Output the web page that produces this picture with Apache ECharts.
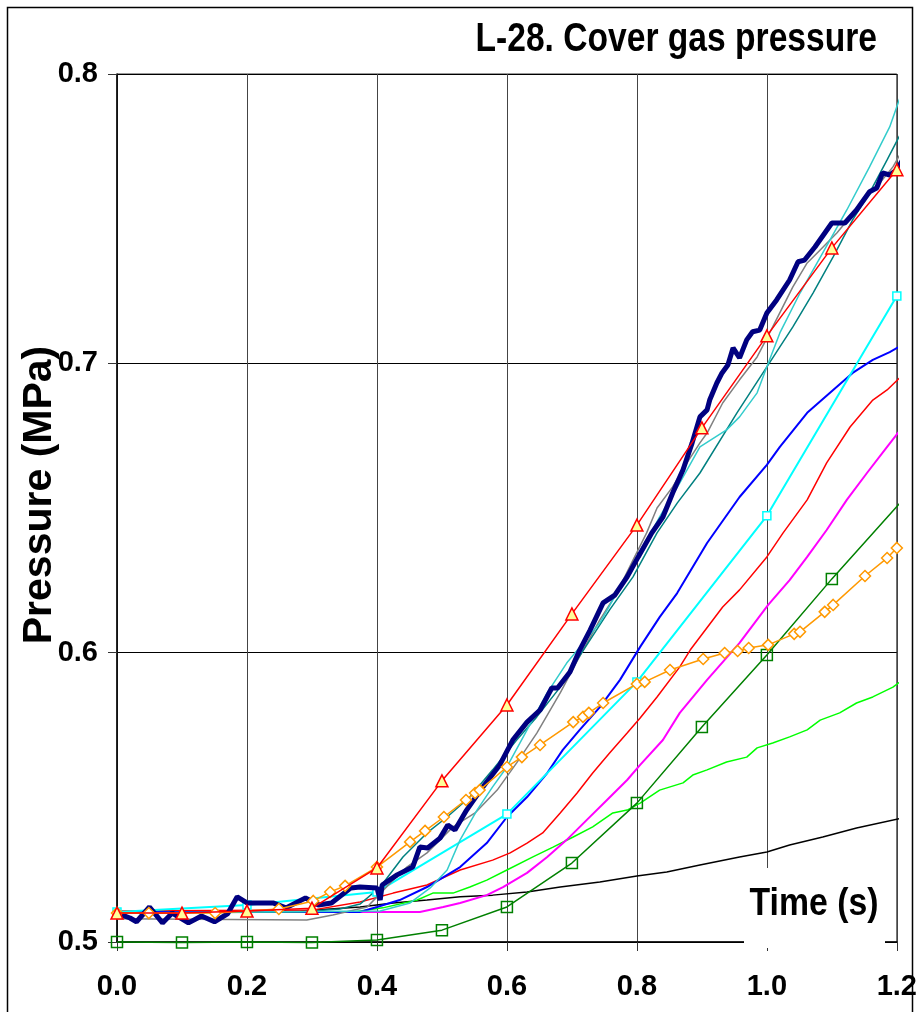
<!DOCTYPE html>
<html>
<head>
<meta charset="utf-8">
<script src="https://cdn.jsdelivr.net/npm/echarts@6/dist/echarts.min.js"></script>
<style>html,body{margin:0;padding:0;background:#fff;}#c{width:920px;height:1012px;}</style>
</head>
<body>
<div id="c"></div>
<script>
// ---- data: [time (s), pressure (MPa)] ----
var xTicks = ['0.0','0.2','0.4','0.6','0.8','1.0','1.2'];
var yTicks = ['0.5','0.6','0.7','0.8'];

var navyThick = [[0,0.510],[0.02,0.5083],[0.03,0.507],[0.05,0.5121],[0.07,0.5066],[0.085,0.510],[0.11,0.5066],[0.13,0.509],[0.15,0.507],[0.17,0.5097],[0.185,0.5156],[0.20,0.5135],[0.24,0.5135],[0.26,0.5118],[0.29,0.5152],[0.31,0.5128],[0.33,0.5135],[0.36,0.5187],[0.374,0.519],[0.400,0.5187],[0.405,0.5145],[0.408,0.5197],[0.431,0.5232],[0.455,0.5259],[0.466,0.5328],[0.478,0.5325],[0.497,0.5359],[0.509,0.5404],[0.520,0.5387],[0.538,0.5456],[0.563,0.5536],[0.589,0.5612],[0.609,0.5698],[0.631,0.5760],[0.651,0.5802],[0.669,0.5878],[0.678,0.5878],[0.697,0.5933],[0.712,0.6009],[0.728,0.6078],[0.748,0.6172],[0.766,0.6199],[0.785,0.6262],[0.802,0.6331],[0.823,0.6414],[0.840,0.6469],[0.855,0.6552],[0.871,0.6632],[0.885,0.6725],[0.897,0.6815],[0.908,0.6839],[0.912,0.6873],[0.923,0.6932],[0.931,0.6967],[0.940,0.6994],[0.948,0.7053],[0.958,0.7019],[0.969,0.7081],[0.978,0.7109],[0.989,0.7115],[1.000,0.7174],[1.015,0.7219],[1.035,0.7288],[1.048,0.7351],[1.058,0.7357],[1.074,0.7402],[1.100,0.7485],[1.120,0.7485],[1.138,0.7530],[1.158,0.7593],[1.169,0.7606],[1.178,0.7658],[1.189,0.7651],[1.200,0.7669],[1.209,0.7703]];

var grayLine = [[0,0.5080],[0.292,0.5076],[0.332,0.5093],[0.385,0.5121],[0.400,0.5156],[0.425,0.5214],[0.446,0.5259],[0.477,0.5308],[0.517,0.5398],[0.551,0.5446],[0.585,0.5525],[0.615,0.5619],[0.646,0.5722],[0.682,0.5861],[0.709,0.5975],[0.743,0.6113],[0.769,0.6206],[0.794,0.6320],[0.815,0.6414],[0.831,0.6500],[0.855,0.6573],[0.877,0.6656],[0.897,0.6725],[0.908,0.6759],[0.932,0.6863],[0.958,0.6943],[0.985,0.7022],[1.009,0.7126],[1.040,0.7264],[1.062,0.7347],[1.082,0.7392],[1.108,0.7451],[1.128,0.7506],[1.154,0.7575],[1.174,0.7624],[1.194,0.7679],[1.209,0.7738]];

var tealDark = [[0,0.510],[0.28,0.5104],[0.343,0.5114],[0.374,0.5131],[0.405,0.5190],[0.440,0.5294],[0.477,0.5377],[0.508,0.5432],[0.543,0.5501],[0.578,0.5595],[0.615,0.5698],[0.646,0.5778],[0.682,0.5881],[0.708,0.5975],[0.758,0.6148],[0.794,0.6262],[0.831,0.6414],[0.862,0.6517],[0.897,0.6621],[0.954,0.6829],[1.000,0.6988],[1.040,0.7126],[1.071,0.7243],[1.102,0.7368],[1.132,0.7496],[1.158,0.7589],[1.185,0.7703],[1.209,0.7807]];

var tealLight = [[0,0.510],[0.405,0.5107],[0.451,0.5135],[0.482,0.5187],[0.508,0.5249],[0.528,0.5353],[0.554,0.5456],[0.578,0.5536],[0.600,0.5605],[0.631,0.5733],[0.662,0.5861],[0.692,0.5964],[0.743,0.6103],[0.769,0.6206],[0.805,0.6345],[0.835,0.6469],[0.866,0.6587],[0.897,0.6711],[0.938,0.6770],[0.958,0.6815],[0.985,0.6898],[1.000,0.6988],[1.020,0.7105],[1.051,0.7243],[1.086,0.7382],[1.123,0.7530],[1.158,0.7679],[1.189,0.7817],[1.209,0.7945]];

var blueLine = [[0,0.5104],[0.374,0.5104],[0.400,0.5121],[0.435,0.5145],[0.477,0.5190],[0.528,0.5259],[0.569,0.5342],[0.600,0.5432],[0.631,0.5501],[0.662,0.5584],[0.686,0.5664],[0.712,0.5733],[0.743,0.5812],[0.774,0.5906],[0.805,0.6020],[0.835,0.6123],[0.862,0.6206],[0.908,0.6379],[0.958,0.6538],[1.000,0.6649],[1.020,0.6711],[1.062,0.6829],[1.102,0.6908],[1.132,0.6967],[1.163,0.7012],[1.189,0.7039],[1.209,0.7064]];

var redThin = [[0,0.5107],[0.302,0.5111],[0.374,0.5138],[0.425,0.5169],[0.477,0.5197],[0.528,0.5249],[0.578,0.5283],[0.605,0.5308],[0.631,0.5342],[0.655,0.5377],[0.682,0.5446],[0.708,0.5515],[0.732,0.5584],[0.758,0.5653],[0.785,0.5722],[0.805,0.5774],[0.831,0.5847],[0.866,0.5951],[0.882,0.6009],[0.932,0.6158],[0.958,0.6217],[1.000,0.6331],[1.025,0.6414],[1.062,0.6528],[1.092,0.6656],[1.128,0.6780],[1.163,0.6873],[1.185,0.6908],[1.209,0.6960]];

var magentaLine = [[0,0.5104],[0.466,0.5104],[0.502,0.5121],[0.528,0.5135],[0.569,0.5162],[0.594,0.5190],[0.631,0.5239],[0.662,0.5294],[0.692,0.5353],[0.723,0.5422],[0.754,0.5491],[0.785,0.5560],[0.805,0.5612],[0.840,0.5698],[0.866,0.5792],[0.908,0.5906],[0.958,0.6034],[1.002,0.6165],[1.035,0.6251],[1.062,0.6331],[1.092,0.6424],[1.123,0.6528],[1.154,0.6621],[1.185,0.6711],[1.209,0.6780]];

var limeLine = [[0,0.5104],[0.363,0.5104],[0.409,0.5118],[0.462,0.5145],[0.486,0.5169],[0.517,0.5169],[0.543,0.5190],[0.569,0.5214],[0.600,0.5249],[0.640,0.5294],[0.671,0.5328],[0.702,0.5363],[0.732,0.5398],[0.763,0.5446],[0.785,0.5456],[0.805,0.5480],[0.835,0.5525],[0.871,0.5550],[0.886,0.5577],[0.908,0.5595],[0.938,0.5622],[0.969,0.5639],[0.985,0.5671],[1.009,0.5688],[1.035,0.5709],[1.062,0.5733],[1.082,0.5767],[1.112,0.5792],[1.138,0.5826],[1.163,0.5847],[1.194,0.5881],[1.209,0.5906]];

var blackLine = [[0,0.5104],[0.282,0.5107],[0.374,0.5121],[0.425,0.5135],[0.477,0.5145],[0.528,0.5156],[0.578,0.5162],[0.631,0.5173],[0.682,0.5190],[0.743,0.5207],[0.800,0.5228],[0.846,0.5242],[0.897,0.5266],[0.958,0.5294],[1.000,0.5311],[1.035,0.5335],[1.086,0.5363],[1.138,0.5394],[1.209,0.5429]];

var redTriangles = [[0,0.5100],[0.1,0.5100],[0.2,0.5107],[0.3,0.5117],[0.4,0.5256],[0.5,0.5557],[0.6,0.5819],[0.7,0.6134],[0.8,0.6441],[0.9,0.6777],[1.0,0.7095],[1.1,0.7399],[1.2,0.7669]];
var redTrianglesTail = [1.209, 0.7696];

var orangeDiamonds = [[0.000,0.5100],[0.049,0.5100],[0.151,0.5100],[0.249,0.5114],[0.302,0.5142],[0.328,0.5173],[0.351,0.5194],[0.400,0.5259],[0.451,0.5346],[0.474,0.5384],[0.503,0.5432],[0.537,0.5491],[0.551,0.5515],[0.558,0.5525],[0.600,0.5605],[0.623,0.5639],[0.651,0.5681],[0.702,0.5760],[0.717,0.5778],[0.726,0.5792],[0.748,0.5826],[0.800,0.5892],[0.812,0.5899],[0.851,0.5940],[0.902,0.5978],[0.935,0.5999],[0.955,0.6006],[0.972,0.6016],[1.002,0.6027],[1.042,0.6065],[1.051,0.6072],[1.089,0.6141],[1.102,0.6165],[1.151,0.6265],[1.185,0.6327],[1.200,0.6362]];

var cyanSquares = [[0,0.5104],[0.2,0.5128],[0.4,0.5173],[0.6,0.5442],[0.8,0.5899],[1.0,0.6473],[1.2,0.7233]];
var cyanTail = [1.209, 0.7264];

var greenSquares = [[0,0.5],[0.1,0.4998],[0.2,0.5],[0.3,0.4998],[0.4,0.5007],[0.5,0.5041],[0.6,0.5121],[0.7,0.5273],[0.8,0.5480],[0.9,0.5743],[1.0,0.5992],[1.1,0.6255]];
var greenTail = [1.209, 0.6528];

// ---- chart ----
var FONT = "'Liberation Sans', Arial, sans-serif";
function withTail(arr, tail) {
  return arr.map(function (d) { return d; }).concat([{ value: tail, symbol: 'none' }]);
}
function plain(name, data, color, width, z) {
  return { name: name, type: 'line', data: data, showSymbol: false, symbol: 'none', clip: false,
    lineStyle: { color: color, width: width }, itemStyle: { color: color }, z: z, silent: true, animation: false };
}
var chart = echarts.init(document.getElementById('c'), null, { renderer: 'canvas' });
chart.setOption({
  backgroundColor: '#fff',
  animation: false,
  grid: { left: 117, top: 74, width: 780, height: 868, show: true, borderColor: '#333', borderWidth: 1, backgroundColor: 'transparent' },
  xAxis: {
    type: 'value', min: 0, max: 1.2, interval: 0.2,
    axisLine: { show: true, onZero: false, lineStyle: { color: '#000', width: 1.5 } },
    axisTick: { show: true, length: 9, lineStyle: { color: '#333' } },
    splitLine: { show: true, lineStyle: { color: '#444', width: 1 } },
    axisLabel: { margin: 30, color: '#000', fontSize: 29, fontWeight: 'bold', fontFamily: FONT,
      formatter: function (v) { return xTicks[Math.round(v / 0.2)]; } }
  },
  yAxis: {
    type: 'value', min: 0.5, max: 0.8, interval: 0.1,
    axisLine: { show: true, lineStyle: { color: '#000', width: 1.5 } },
    axisTick: { show: true, length: 9, lineStyle: { color: '#333' } },
    splitLine: { show: true, lineStyle: { color: '#000', width: 1 } },
    axisLabel: { margin: 19, color: '#000', fontSize: 29, fontWeight: 'bold', fontFamily: FONT,
      formatter: function (v) { return yTicks[Math.round((v - 0.5) / 0.1)]; } }
  },
  series: [
    plain('black', blackLine, '#000000', 1.5, 2),
    plain('lime', limeLine, '#00FF00', 1.5, 2),
    plain('magenta', magentaLine, '#FF00FF', 2, 2),
    plain('red', redThin, '#FF0000', 1.5, 2),
    plain('blue', blueLine, '#0000FF', 2, 2),
    { name: 'cyan', type: 'line', data: withTail(cyanSquares, cyanTail), clip: false, symbol: 'rect', symbolSize: 8, showAllSymbol: true,
      lineStyle: { color: '#00FFFF', width: 2 }, itemStyle: { color: '#fff', borderColor: '#00FFFF', borderWidth: 1.5 }, z: 3 },
    plain('gray', grayLine, '#808080', 1.5, 3),
    plain('tealDark', tealDark, '#008080', 1.5, 3),
    plain('tealLight', tealLight, '#33CCCC', 1.5, 3),
    plain('navy', navyThick, '#000080', 5, 4),
    { name: 'green', type: 'line', data: withTail(greenSquares, greenTail), clip: false, symbol: 'rect', symbolSize: 11, showAllSymbol: true,
      lineStyle: { color: '#008000', width: 1.5 }, itemStyle: { color: 'rgba(255,255,255,0)', borderColor: '#008000', borderWidth: 1.5 }, z: 5 },
    { name: 'orange', type: 'line', data: orangeDiamonds, clip: false, symbol: 'diamond', symbolSize: 11, showAllSymbol: true,
      lineStyle: { color: '#FF9900', width: 1.5 }, itemStyle: { color: '#fff', borderColor: '#FF9900', borderWidth: 1.5 }, z: 6 },
    { name: 'redTri', type: 'line', data: withTail(redTriangles, redTrianglesTail), clip: false, symbol: 'triangle', symbolSize: 12, showAllSymbol: true,
      lineStyle: { color: '#FF0000', width: 1.5 }, itemStyle: { color: '#FFFF99', borderColor: '#FF0000', borderWidth: 1.5 }, z: 7 }
  ],
  graphic: [
    { type: 'rect', z: 100, silent: true, shape: { x: 7.5, y: 7.5, width: 905, height: 1030 }, style: { fill: 'none', stroke: '#000', lineWidth: 1.5 } },
    { type: 'rect', z: 100, silent: true, shape: { x: 744, y: 868, width: 141, height: 80 }, style: { fill: '#fff', stroke: 'none' } },
    { type: 'text', z: 101, silent: true, x: 814, y: 905, scaleX: 0.89,
      style: { text: 'Time (s)', fill: '#000', font: 'bold 38px ' + FONT, textAlign: 'center', textVerticalAlign: 'middle' } },
    { type: 'text', z: 101, silent: true, x: 877, y: 40, scaleX: 0.84,
      style: { text: 'L-28. Cover gas pressure', fill: '#000', font: 'bold 40px ' + FONT, textAlign: 'right', textVerticalAlign: 'middle' } },
    { type: 'text', z: 101, silent: true, x: 40, y: 495, rotation: Math.PI / 2,
      style: { text: 'Pressure (MPa)', fill: '#000', font: 'bold 41px ' + FONT, textAlign: 'center', textVerticalAlign: 'middle' } }
  ]
});
</script>
</body>
</html>
